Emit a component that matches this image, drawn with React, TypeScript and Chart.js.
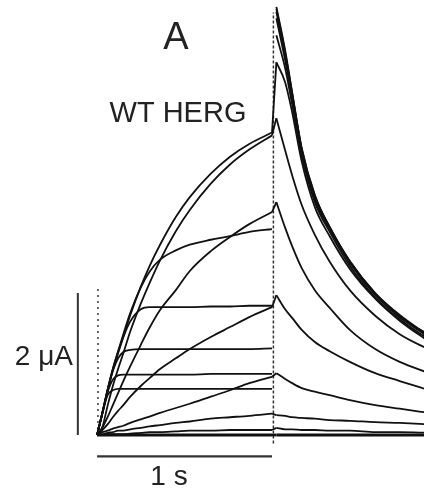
import React, { useEffect, useRef } from "react";
import { Chart, registerables } from "chart.js";

Chart.register(...registerables);

// time axis (s): depolarising step 0..1 s, then tail
const stepTimes = [0, 0.03, 0.06, 0.09, 0.12, 0.15, 0.19, 0.25, 0.3, 0.36, 0.45, 0.53, 0.65, 0.76, 0.87, 1.0];
const tailTimes = [1.025, 1.075, 1.115, 1.17, 1.245, 1.33, 1.445, 1.59, 1.73, 1.9];

// current (µA) during the step, one array per test pulse
const step0 = [0, 0, 0, 0, 0, 0, 0, 0, 0, 0, 0, 0, 0, 0, 0, 0];
const step1 = [0, 0, 0.01, 0.01, 0.01, 0.01, 0.02, 0.03, 0.04, 0.04, 0.05, 0.06, 0.06, 0.07, 0.07, 0.07];
const step2 = [0, 0.01, 0.03, 0.04, 0.06, 0.06, 0.08, 0.1, 0.12, 0.14, 0.17, 0.19, 0.23, 0.25, 0.27, 0.3];
const step3 = [0, 0.04, 0.06, 0.09, 0.11, 0.13, 0.17, 0.22, 0.26, 0.31, 0.38, 0.44, 0.54, 0.63, 0.73, 0.82];
const step4 = [0, 0.07, 0.15, 0.25, 0.34, 0.42, 0.54, 0.69, 0.8, 0.93, 1.08, 1.21, 1.38, 1.52, 1.66, 1.8];
const step5 = [0, 0.1, 0.25, 0.42, 0.59, 0.76, 0.97, 1.27, 1.51, 1.76, 2.04, 2.31, 2.59, 2.79, 2.97, 3.14];
const step6 = [0, 0.11, 0.41, 0.69, 0.93, 1.15, 1.46, 1.85, 2.14, 2.46, 2.87, 3.17, 3.54, 3.81, 4.02, 4.22];
const step7 = [0, 0.3, 0.62, 0.91, 1.15, 1.38, 1.69, 2.09, 2.38, 2.68, 3.07, 3.35, 3.68, 3.92, 4.1, 4.26];
const step8 = [0, 0.31, 0.63, 0.93, 1.18, 1.42, 1.72, 2.08, 2.3, 2.47, 2.6, 2.68, 2.75, 2.8, 2.86, 2.9];
const step9 = [0, 0.31, 0.64, 0.93, 1.17, 1.38, 1.6, 1.77, 1.8, 1.8, 1.8, 1.8, 1.81, 1.81, 1.82, 1.82];
const step10 = [0, 0.31, 0.63, 0.9, 1.08, 1.17, 1.2, 1.21, 1.21, 1.21, 1.21, 1.21, 1.21, 1.21, 1.21, 1.22];
const step11 = [0, 0.31, 0.6, 0.78, 0.84, 0.85, 0.85, 0.85, 0.85, 0.85, 0.85, 0.85, 0.86, 0.86, 0.86, 0.86];
const step12 = [0, 0.3, 0.56, 0.63, 0.65, 0.65, 0.65, 0.65, 0.65, 0.65, 0.65, 0.65, 0.65, 0.65, 0.65, 0.65];

// tail current (µA) after repolarisation
const tail0 = [0, 0, 0, 0, 0, 0, 0, 0, 0, 0];
const tail1 = [0.1, 0.08, 0.08, 0.07, 0.07, 0.06, 0.06, 0.04, 0.04, 0.03];
const tail2 = [0.28, 0.27, 0.25, 0.24, 0.23, 0.21, 0.2, 0.18, 0.17, 0.15];
const tail3 = [0.87, 0.79, 0.73, 0.66, 0.61, 0.56, 0.49, 0.42, 0.37, 0.31];
const tail4 = [1.97, 1.77, 1.65, 1.48, 1.31, 1.18, 1.03, 0.87, 0.76, 0.63];
const tail5 = [3.28, 2.92, 2.66, 2.35, 2.04, 1.79, 1.48, 1.21, 1.03, 0.87];
const tail6 = [4.46, 4.01, 3.66, 3.24, 2.82, 2.44, 2.04, 1.68, 1.42, 1.2];
const tail7 = [5.25, 4.97, 4.55, 3.85, 3.21, 2.8, 2.34, 1.92, 1.61, 1.31];
const tail8 = [5.63, 5.17, 4.66, 3.93, 3.28, 2.86, 2.38, 1.94, 1.63, 1.34];
const tail9 = [5.87, 5.28, 4.75, 3.99, 3.32, 2.9, 2.42, 1.97, 1.66, 1.37];
const tail10 = [5.96, 5.35, 4.79, 4.01, 3.35, 2.92, 2.44, 1.99, 1.68, 1.38];
const tail11 = [6.0, 5.39, 4.82, 4.03, 3.37, 2.93, 2.45, 2.0, 1.69, 1.39];
const tail12 = [6.03, 5.42, 4.83, 4.04, 3.38, 2.92, 2.44, 1.99, 1.66, 1.41];

// capacity transients (s, µA)
const onsetTransientT = [0.005, 0.005];
const onsetTransientI = [0, 2.11];
const offsetTransientT = [1.008, 1.008];
const offsetTransientI = [-0.12, 5.95];

// scale bars
const scaleBarCurrent = [0, 2]; // µA
const scaleBarTime = [0, 1]; // s

export default function App() {
  const ref = useRef<HTMLCanvasElement | null>(null);

  useEffect(() => {
    const canvas = ref.current;
    if (!canvas) return;
    const steps = [step0, step1, step2, step3, step4, step5, step6, step7, step8, step9, step10, step11, step12];
    const tails = [tail0, tail1, tail2, tail3, tail4, tail5, tail6, tail7, tail8, tail9, tail10, tail11, tail12];

    const lineStyle = (i: number) => ({
      borderColor: "#111",
      borderWidth: i === 0 ? 2.8 : 1.8,
      pointRadius: 0,
      fill: false,
      cubicInterpolationMode: "monotone",
    });

    const traceSets: any[] = [];
    steps.forEach((s, i) => {
      const tl = tails[i];
      traceSets.push({ data: stepTimes.map((t, j) => ({ x: t, y: s[j] })), ...lineStyle(i) });
      traceSets.push({ data: tailTimes.map((t, j) => ({ x: t, y: tl[j] })), ...lineStyle(i) });
      const jump = tl[0] - s[s.length - 1];
      if (jump < 1.2) {
        traceSets.push({
          data: [
            { x: stepTimes[stepTimes.length - 1], y: s[s.length - 1] },
            { x: tailTimes[0], y: tl[0] },
          ],
          ...lineStyle(i),
          cubicInterpolationMode: "default",
          tension: 0,
        });
      }
    });

    const barX = -0.11;
    const barY = -0.3;
    const extra: any[] = [
      {
        data: onsetTransientT.map((t, j) => ({ x: t, y: onsetTransientI[j] })),
        borderColor: "#444",
        borderWidth: 1.6,
        borderDash: [2, 4],
        pointRadius: 0,
      },
      {
        data: offsetTransientT.map((t, j) => ({ x: t, y: offsetTransientI[j] })),
        borderColor: "#333",
        borderWidth: 1.5,
        borderDash: [3, 2],
        pointRadius: 0,
      },
      {
        data: scaleBarCurrent.map((v) => ({ x: barX, y: v })),
        borderColor: "#333",
        borderWidth: 2,
        pointRadius: 0,
      },
      {
        data: scaleBarTime.map((v) => ({ x: v, y: barY })),
        borderColor: "#333",
        borderWidth: 2.2,
        pointRadius: 0,
      },
    ];

    const labels = {
      id: "labels",
      afterDraw(chart: any) {
        const c = chart.ctx;
        c.save();
        c.fillStyle = "#222";
        c.textBaseline = "alphabetic";
        c.textAlign = "center";
        c.font = '38px "Liberation Sans", Arial, sans-serif';
        c.fillText("A", 176, 49);
        c.font = '29px "Liberation Sans", Arial, sans-serif';
        c.fillText("WT HERG", 178, 122);
        c.font = '28px "Liberation Sans", Arial, sans-serif';
        c.fillText("1 s", 169, 485);
        c.textAlign = "right";
        c.fillText("2 \u03BCA", 73, 365);
        c.restore();
      },
    };

    const chart = new Chart(canvas, {
      type: "line",
      data: { datasets: [...traceSets, ...extra] },
      options: {
        responsive: false,
        animation: false,
        parsing: false as any,
        layout: { padding: 0 },
        plugins: { legend: { display: false }, tooltip: { enabled: false }, title: { display: false } },
        scales: {
          x: { type: "linear", min: -0.555, max: 1.869, display: false },
          y: { type: "linear", min: -0.775, max: 6.127, display: false },
        },
      },
      plugins: [labels],
    });
    return () => chart.destroy();
  }, []);

  return (
    <div style={{ position: "fixed", left: 0, top: 0, width: 424, height: 490, background: "#fff" }}>
      <canvas ref={ref} width={424} height={490} style={{ display: "block" }} />
    </div>
  );
}
